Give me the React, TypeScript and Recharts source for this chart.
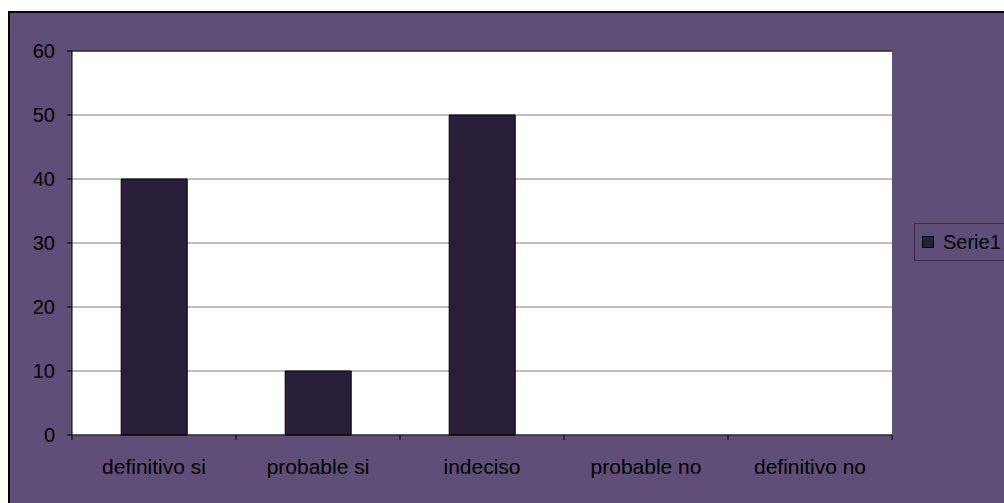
import React from "react";
import { BarChart, Bar, XAxis, YAxis, CartesianGrid, ReferenceLine } from "recharts";

const categories = ["definitivo si", "probable si", "indeciso", "probable no", "definitivo no"];
const serie1 = [40, 10, 50, 0, 0];
const yTicks = [0, 10, 20, 30, 40, 50, 60];
const seriesName = "Serie1";

const data = categories.map((c, i) => ({ name: c, [seriesName]: serie1[i] }));

const BG = "#5f4f78";
const BAR = "#2a1f3a";
const FONT = "'Liberation Sans', Arial, sans-serif";
const X_TICK_SIZE = 5;
const X_TICK_MARGIN = 19;

const CategoryTick = (props: any) => {
  const { x, y, payload, index, visibleTicksCount } = props;
  const off = payload && typeof payload.offset === "number" ? payload.offset : 0;
  const axisY = y - X_TICK_SIZE - X_TICK_MARGIN;
  const last = index === (visibleTicksCount ?? categories.length) - 1;
  return (
    <g>
      <line x1={x - off} x2={x - off} y1={axisY} y2={axisY + X_TICK_SIZE} stroke="#000" />
      {last && <line x1={x + off} x2={x + off} y1={axisY} y2={axisY + X_TICK_SIZE} stroke="#000" />}
      <text
        x={x}
        y={y}
        dy="0.71em"
        textAnchor="middle"
        fill="#000"
        fontSize={21}
        fontFamily={FONT}
      >
        {payload.value}
      </text>
    </g>
  );
};

const LegendBox = () => (
  <div
    style={{
      position: "absolute",
      left: 904,
      top: 210,
      border: "1px solid #3a2e4c",
      height: 38,
      width: 110,
      display: "flex",
      alignItems: "center",
      boxSizing: "border-box",
      paddingLeft: 7,
      fontFamily: FONT,
      fontSize: 20,
      color: "#000",
    }}
  >
    <span
      style={{
        display: "inline-block",
        width: 10,
        height: 10,
        background: BAR,
        border: "1px solid #000",
        marginRight: 9,
      }}
    />
    <span>{seriesName}</span>
  </div>
);

export default function App() {
  return (
    <div
      style={{
        position: "fixed",
        left: 8,
        top: 11,
        width: 1010,
        height: 500,
        background: BG,
        border: "2px solid #000",
        boxSizing: "border-box",
        overflow: "hidden",
      }}
    >
      <BarChart
        width={1000}
        height={490}
        data={data}
        margin={{ top: 38, right: 118, bottom: 38, left: 0 }}
        barCategoryGap="30%"
        style={{ fontFamily: FONT }}
      >
        <CartesianGrid fill="#ffffff" stroke="#808080" vertical={false} />
        <ReferenceLine y={60} stroke="#000" strokeWidth={1} />
        <XAxis
          dataKey="name"
          axisLine={{ stroke: "#000" }}
          tickLine={false}
          tickSize={X_TICK_SIZE}
          tickMargin={X_TICK_MARGIN}
          height={30}
          interval={0}
          tick={CategoryTick}
        />
        <YAxis
          domain={[0, 60]}
          ticks={yTicks}
          width={62}
          axisLine={{ stroke: "#000" }}
          tickLine={{ stroke: "#000" }}
          tickSize={5}
          tickMargin={12}
          tick={{ fill: "#000", fontSize: 20, fontFamily: FONT }}
        />
        <YAxis
          yAxisId="r"
          orientation="right"
          domain={[0, 60]}
          width={0}
          tick={false}
          tickLine={false}
          axisLine={{ stroke: "#000" }}
        />
        <Bar dataKey={seriesName} fill={BAR} stroke="#000" strokeWidth={1} isAnimationActive={false} />
      </BarChart>
      <LegendBox />
    </div>
  );
}
